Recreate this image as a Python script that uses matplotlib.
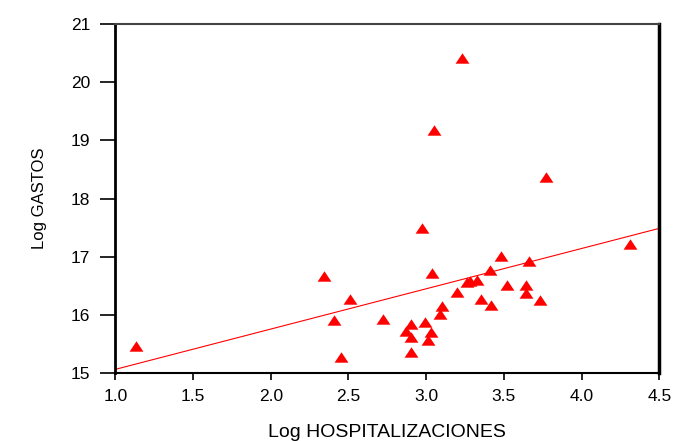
import numpy as np
import matplotlib
matplotlib.use("Agg")
import matplotlib.pyplot as plt

plt.rcParams['font.family'] = ['Liberation Sans', 'DejaVu Sans']

# log hospitalizations vs log expenditure
logHosp = [1.13, 2.34, 2.51, 2.41, 2.45, 2.72, 2.87, 2.90, 2.90, 2.90,
           2.97, 2.99, 3.01, 3.03, 3.04, 3.05, 3.09, 3.10, 3.20, 3.23,
           3.26, 3.28, 3.33, 3.35, 3.41, 3.42, 3.48, 3.52, 3.64, 3.64,
           3.66, 3.73, 3.77, 4.31]
logGastos = [15.47, 16.67, 16.28, 15.92, 15.28, 15.93, 15.73, 15.85, 15.62, 15.37,
             17.50, 15.88, 15.57, 15.71, 16.72, 19.18, 16.02, 16.16, 16.40, 20.42,
             16.56, 16.58, 16.61, 16.28, 16.78, 16.18, 17.01, 16.52, 16.52, 16.38,
             16.93, 16.26, 18.37, 17.22]

xTicks = [1.0, 1.5, 2.0, 2.5, 3.0, 3.5, 4.0, 4.5]
yTicks = [15, 16, 17, 18, 19, 20, 21]

fig = plt.figure(figsize=(6.77, 4.41), dpi=100)
ax = fig.add_axes([0.1703, 0.1535, 0.8036, 0.7921])

triangle = [(-1, -0.75), (1, -0.75), (0, 0.75)]
ax.plot(logHosp, logGastos, linestyle="none", marker=triangle,
        markersize=10, color="red", markeredgewidth=0)

# least squares line over the full x range
slope, intercept = np.polyfit(logHosp, logGastos, 1)
xLine = np.array([1.0, 4.5])
ax.plot(xLine, intercept + slope * xLine, color="red", linewidth=0.8)

ax.set_xlim(1.0, 4.5)
ax.set_ylim(15, 21)
ax.set_xticks(xTicks)
ax.set_xticklabels(["%.1f" % t for t in xTicks])
ax.set_yticks(yTicks)

ax.tick_params(axis="both", direction="out", labelsize=12.5, colors="black")
ax.tick_params(axis="y", length=11, width=1.2, pad=7)
ax.tick_params(axis="x", length=5, width=1.2, pad=6)

ax.spines["left"].set_linewidth(2)
ax.spines["right"].set_linewidth(2.5)
ax.spines["bottom"].set_linewidth(1.5)
ax.spines["top"].set_linewidth(1.5)
ax.spines["top"].set_color("#444444")

ax.set_xlabel("Log HOSPITALIZACIONES", fontsize=14, labelpad=15)
ax.set_ylabel("Log GASTOS", fontsize=12, labelpad=17)

fig.savefig("out.png", dpi=100)
